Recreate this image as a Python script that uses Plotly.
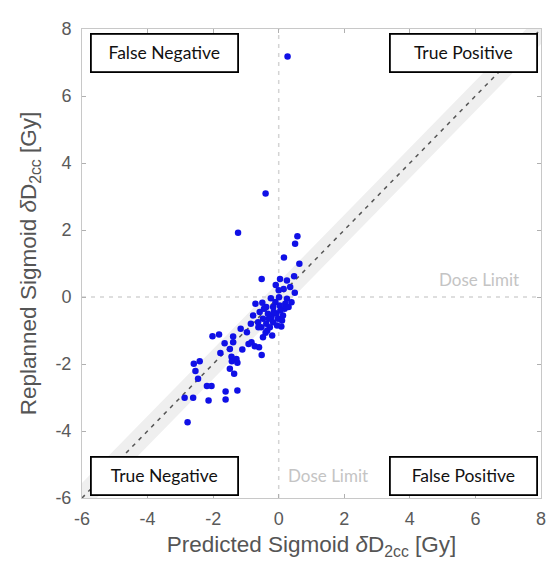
import plotly.graph_objects as go

# Data
predicted = [
    -1.24, 0.57, 0.50, 0.16, 0.63, -0.52, 0.04, 0.25, 0.47, -0.09, 0.15, 0.49,
    -0.24, 0.01, 0.25, -0.71, -0.50, 0.39, -0.38, -0.17, 0.03, 0.18, -0.58, -0.33,
    -0.07, 0.13, -0.48, -0.22, -0.02, -0.63, -0.38, -0.17, 0.08, -0.78, -0.53, -0.27,
    -1.16, -0.97, -0.40, -0.48, -2.02, -1.82, -1.39, -1.65, -1.39, -0.83, -0.73, -0.60,
    -1.11, -1.49, -1.78, -1.44, -1.29, -0.52, -1.43, -1.26, -2.41, -2.59, -2.54, -1.49,
    -1.36, -2.46, -2.19, -2.05, -1.62, -1.26, -2.87, -2.61, -2.14, -1.62, -2.78,
    0.27, -0.40,
    -0.10, 0.20, -0.30, 0.05, -0.15, 0.30, -0.45, -0.05, 0.10, -0.62, 0.35, 0.00,
    -0.35, -0.20, -0.92, -0.85,
]
replanned = [
    1.92, 1.81, 1.59, 1.18, 0.99, 0.54, 0.54, 0.49, 0.62, 0.36, 0.24, 0.13,
    -0.04, -0.01, -0.05, -0.20, -0.17, -0.16, -0.30, -0.30, -0.25, -0.35, -0.45, -0.50,
    -0.50, -0.55, -0.65, -0.60, -0.65, -0.75, -0.80, -0.75, -0.88, -0.55, -0.90, -0.90,
    -0.95, -1.05, -1.07, -1.20, -1.17, -1.12, -1.18, -1.38, -1.35, -1.35, -1.47, -1.50,
    -1.57, -1.55, -1.67, -1.78, -1.85, -1.73, -1.92, -1.96, -1.92, -1.99, -2.21, -2.14,
    -2.29, -2.44, -2.66, -2.66, -2.82, -2.79, -3.01, -3.01, -3.09, -3.06, -3.74,
    7.18, 3.09,
    -0.15, -0.20, -0.65, -0.40, -0.45, -0.30, -0.35, -0.85, -0.70, -0.90, 0.30, 0.20,
    -1.00, -1.15, -1.40, -0.80,
]

axis_range = [-6, 8]
tick_vals = [-6, -4, -2, 0, 2, 4, 6, 8]
tick_text = ["-6", "-4", "-2", "0", "2", "4", "6", "8"]
dose_limit = 0
band_half = 0.45

quadrant_labels = ["False Negative", "True Positive", "True Negative", "False Positive"]
quadrant_x = [-3.49, 5.64, -3.49, 5.64]
quadrant_y = [7.27, 7.27, -5.33, -5.33]

fig = go.Figure()

# identity band
bx = [axis_range[0], axis_range[1], axis_range[1], axis_range[0]]
by = [axis_range[0] - band_half, axis_range[1] - band_half,
      axis_range[1] + band_half, axis_range[0] + band_half]
fig.add_trace(go.Scatter(x=bx, y=by, fill="toself", fillcolor="#efefef",
                         line=dict(width=0), mode="lines", hoverinfo="skip",
                         showlegend=False))
# dose limit lines
fig.add_trace(go.Scatter(x=[dose_limit, dose_limit], y=axis_range, mode="lines",
                         line=dict(color="#d4d4d4", width=1.5, dash="4px,5px"),
                         showlegend=False))
fig.add_trace(go.Scatter(x=axis_range, y=[dose_limit, dose_limit], mode="lines",
                         line=dict(color="#d4d4d4", width=1.5, dash="4px,5px"),
                         showlegend=False))
# identity line
fig.add_trace(go.Scatter(x=axis_range, y=axis_range, mode="lines",
                         line=dict(color="#555555", width=1.5, dash="4px,5px"),
                         showlegend=False))
# points
fig.add_trace(go.Scatter(x=predicted, y=replanned, mode="markers",
                         marker=dict(color="#1010e6", size=6.5, line=dict(width=0)),
                         showlegend=False))

for lab, qx, qy in zip(quadrant_labels, quadrant_x, quadrant_y):
    fig.add_annotation(x=qx, y=qy, xref="x", yref="y", text=lab, showarrow=False,
                       font=dict(family="Lato", size=17.5, color="#111111"),
                       bgcolor="white", bordercolor="black", borderwidth=1.8,
                       width=145, height=36, borderpad=0, align="center")

fig.add_annotation(x=7.4, y=dose_limit, xref="x", yref="y", text="Dose Limit",
                   showarrow=False, xanchor="right", yanchor="bottom", yshift=5,
                   font=dict(family="Lato", size=17, color="#c4c4c4"))
fig.add_annotation(x=dose_limit, y=-5.33, xref="x", yref="y", text="Dose Limit",
                   showarrow=False, xanchor="left", xshift=7,
                   font=dict(family="Lato", size=17, color="#c4c4c4"))

axis_common = dict(range=axis_range, tickvals=tick_vals, ticktext=tick_text,
                   showgrid=False, automargin=False,
                   zeroline=False, showline=True, linecolor="#c8c8c8", linewidth=1,
                   mirror="ticks", ticks="inside", ticklen=4, tickcolor="#b0b0b0",
                   tickfont=dict(family="Liberation Sans", size=18, color="#5a5a5a"))

fig.update_xaxes(**axis_common, ticklabelstandoff=4,
                 title=dict(text="Predicted Sigmoid <i>δ</i>D<sub>2cc</sub> [Gy]",
                            font=dict(family="Liberation Sans", size=22.5, color="#555555"),
                            standoff=8))
fig.update_yaxes(**axis_common, ticklabelstandoff=6,
                 title=dict(text="Replanned Sigmoid <i>δ</i>D<sub>2cc</sub> [Gy]",
                            font=dict(family="Liberation Sans", size=22.5, color="#555555"),
                            standoff=12))

fig.update_layout(width=551, height=571, plot_bgcolor="white", paper_bgcolor="white",
                  margin=dict(l=82, r=10, t=29, b=73), showlegend=False)

fig.write_html("out.html")
